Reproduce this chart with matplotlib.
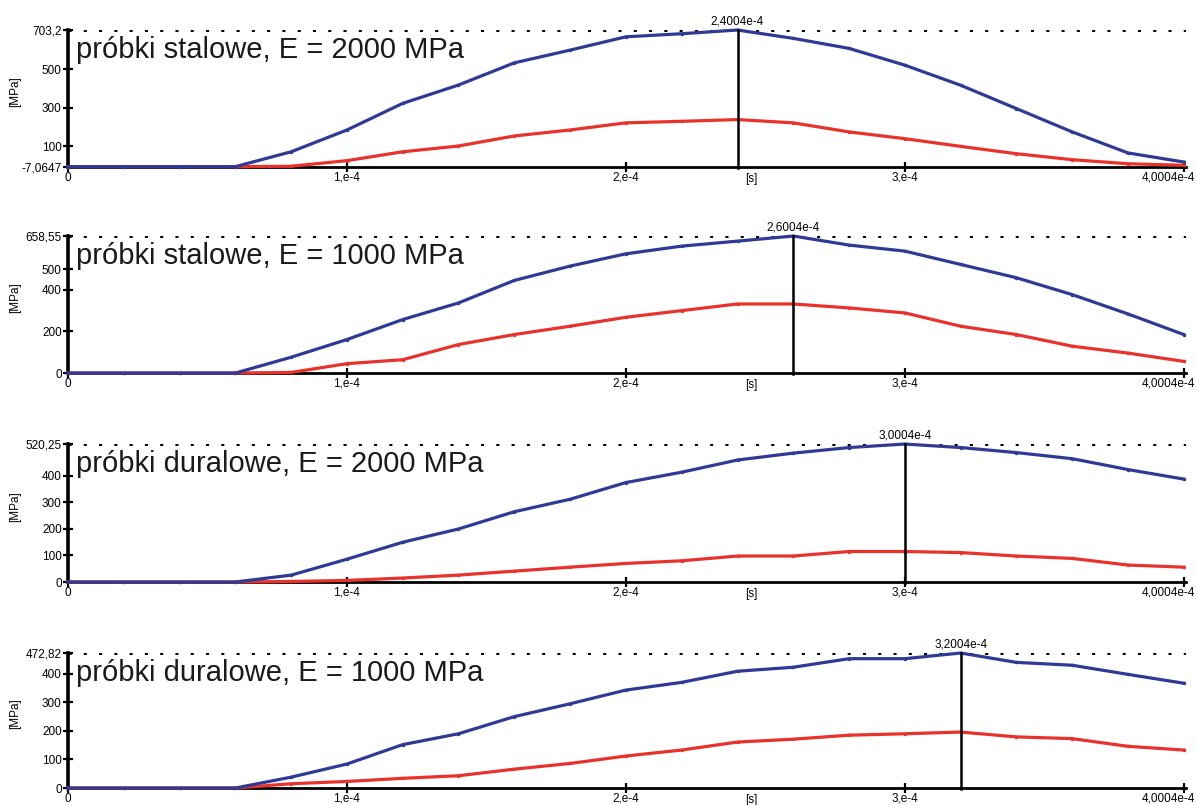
import numpy as np
import matplotlib.pyplot as plt
from matplotlib import transforms

plt.rcParams['font.family'] = ['Liberation Sans', 'DejaVu Sans']

# time of each sample, in units of 1e-4 s
time_e4 = [0.0, 0.2, 0.4, 0.6, 0.8, 1.0, 1.2, 1.4, 1.6, 1.8, 2.0,
           2.2, 2.4004, 2.6004, 2.8004, 3.0004, 3.2004, 3.4004, 3.6004, 3.8004, 4.0004]

titles = ["próbki stalowe, E = 2000 MPa", "próbki stalowe, E = 1000 MPa",
          "próbki duralowe, E = 2000 MPa", "próbki duralowe, E = 1000 MPa"]

blue_st2000 = [-5, -5, -5, -5, 72, 185, 323, 418, 533, 599, 668, 684, 703.2, 660, 608, 521, 417, 296, 175, 66, 19]
red_st2000 = [-5, -5, -5, -5, -3, 26, 72, 102, 154, 185, 222, 230, 239, 222, 175, 140, 100, 62, 31, 10, 2]

blue_st1000 = [0, 0, 0, 0, 76, 161, 257, 337, 445, 514, 573, 610, 634, 658.55, 615, 586, 522, 458, 377, 284, 185]
red_st1000 = [0, 0, 0, 0, 3, 45, 64, 137, 185, 225, 268, 300, 332, 332, 313, 289, 225, 185, 129, 96, 56]

blue_du2000 = [0, 0, 0, 0, 26, 86, 150, 200, 265, 312, 375, 414, 460, 486, 507, 520.25, 507, 488, 465, 424, 388]
red_du2000 = [0, 0, 0, 0, 2, 6, 15, 26, 41, 56, 70, 80, 98, 98, 115, 115, 111, 98, 89, 64, 56]

blue_du1000 = [0, 0, 0, 0, 38, 84, 152, 190, 250, 295, 343, 370, 409, 423, 453, 453, 472.82, 440, 430, 398, 367]
red_du1000 = [0, 0, 0, 0, 15, 23, 34, 43, 66, 86, 112, 133, 161, 171, 185, 190, 196, 179, 173, 146, 133]

blues = [blue_st2000, blue_st1000, blue_du2000, blue_du1000]
reds = [red_st2000, red_st1000, red_du2000, red_du1000]

y_min = [-7.0647, 0, 0, 0]
y_max = [703.2, 658.55, 520.25, 472.82]
y_ticks = [[100, 300, 500], [200, 400, 500], [100, 200, 300, 400], [100, 200, 300, 400]]
peak_labels = ["2,4004e-4", "2,6004e-4", "3,0004e-4", "3,2004e-4"]

x_ticks = [0, 1e-4, 2e-4, 3e-4, 4.0004e-4]
x_ticklabels = ["0", "1,e-4", "2,e-4", "3,e-4", "4,0004e-4"]

BLUE = '#2f3a96'
RED = '#e8322b'

fig = plt.figure(figsize=(11.96, 8.05), dpi=100)
bottoms = [0.7925, 0.5366, 0.2770, 0.0211]
heights = [0.1702, 0.1702, 0.1714, 0.1677]


def fmt(v):
    s = ("%g" % v) if v != -7.0647 else "-7.0647"
    return s.replace('.', ',')


t = np.array(time_e4) * 1e-4
for i in range(4):
    ax = fig.add_axes([68 / 1196, bottoms[i], 1118 / 1196, heights[i]])
    ax.plot(t, reds[i], color=RED, lw=2.3, marker='.', ms=3, zorder=3, clip_on=False)
    ax.plot(t, blues[i], color=BLUE, lw=2.3, marker='.', ms=3, zorder=4, clip_on=False)
    ax.set_xlim(0, 4.0004e-4 * 1.002)
    ax.set_ylim(y_min[i], y_max[i])

    # dotted max line
    ax.axhline(y_max[i], color='black', ls=(0, (1, 4)), lw=2.2, zorder=2)
    # vertical marker at the peak
    k = int(np.argmax(blues[i]))
    span = y_max[i] - y_min[i]
    ax.plot([t[k], t[k]], [y_min[i] - 0.01 * span, y_max[i]], color='black', lw=1.8,
            zorder=5, clip_on=False)
    ax.text(t[k], y_max[i] + 0.02 * span, peak_labels[i], ha='center', va='bottom', fontsize=8.5)

    ax.text(0.007, 0.955, titles[i], transform=ax.transAxes, ha='left', va='top',
            fontsize=21, color='#1a1a1a')

    ticks = [y_min[i]] + y_ticks[i] + [y_max[i]]
    ax.set_yticks(ticks)
    ax.set_yticklabels([fmt(v) for v in ticks], fontsize=8.5)
    ax.set_xticks(x_ticks)
    labels = ax.set_xticklabels(x_ticklabels, fontsize=8.5)
    labels[-1].set_horizontalalignment('right')
    ax.tick_params(axis='both', direction='inout', length=7, width=1.6, colors='black')
    ax.tick_params(axis='y', pad=1)
    ax.tick_params(axis='x', pad=0)
    labels[-1].set_transform(labels[-1].get_transform() +
                             transforms.ScaledTranslation(8 / 72, 0, fig.dpi_scale_trans))

    for side in ['top', 'right']:
        ax.spines[side].set_visible(False)
    ax.spines['left'].set_linewidth(2.6)
    ax.spines['bottom'].set_linewidth(2.0)

    tr = transforms.blended_transform_factory(ax.transData, ax.transAxes)
    ax.text(2.45e-4, -0.045, "[s]", transform=tr, ha='center', va='top', fontsize=8.5)
    ax.set_ylabel("[MPa]", fontsize=8.5)
    ax.yaxis.set_label_coords(-0.042, 0.55)

fig.savefig("out.png", dpi=100, facecolor='white')
